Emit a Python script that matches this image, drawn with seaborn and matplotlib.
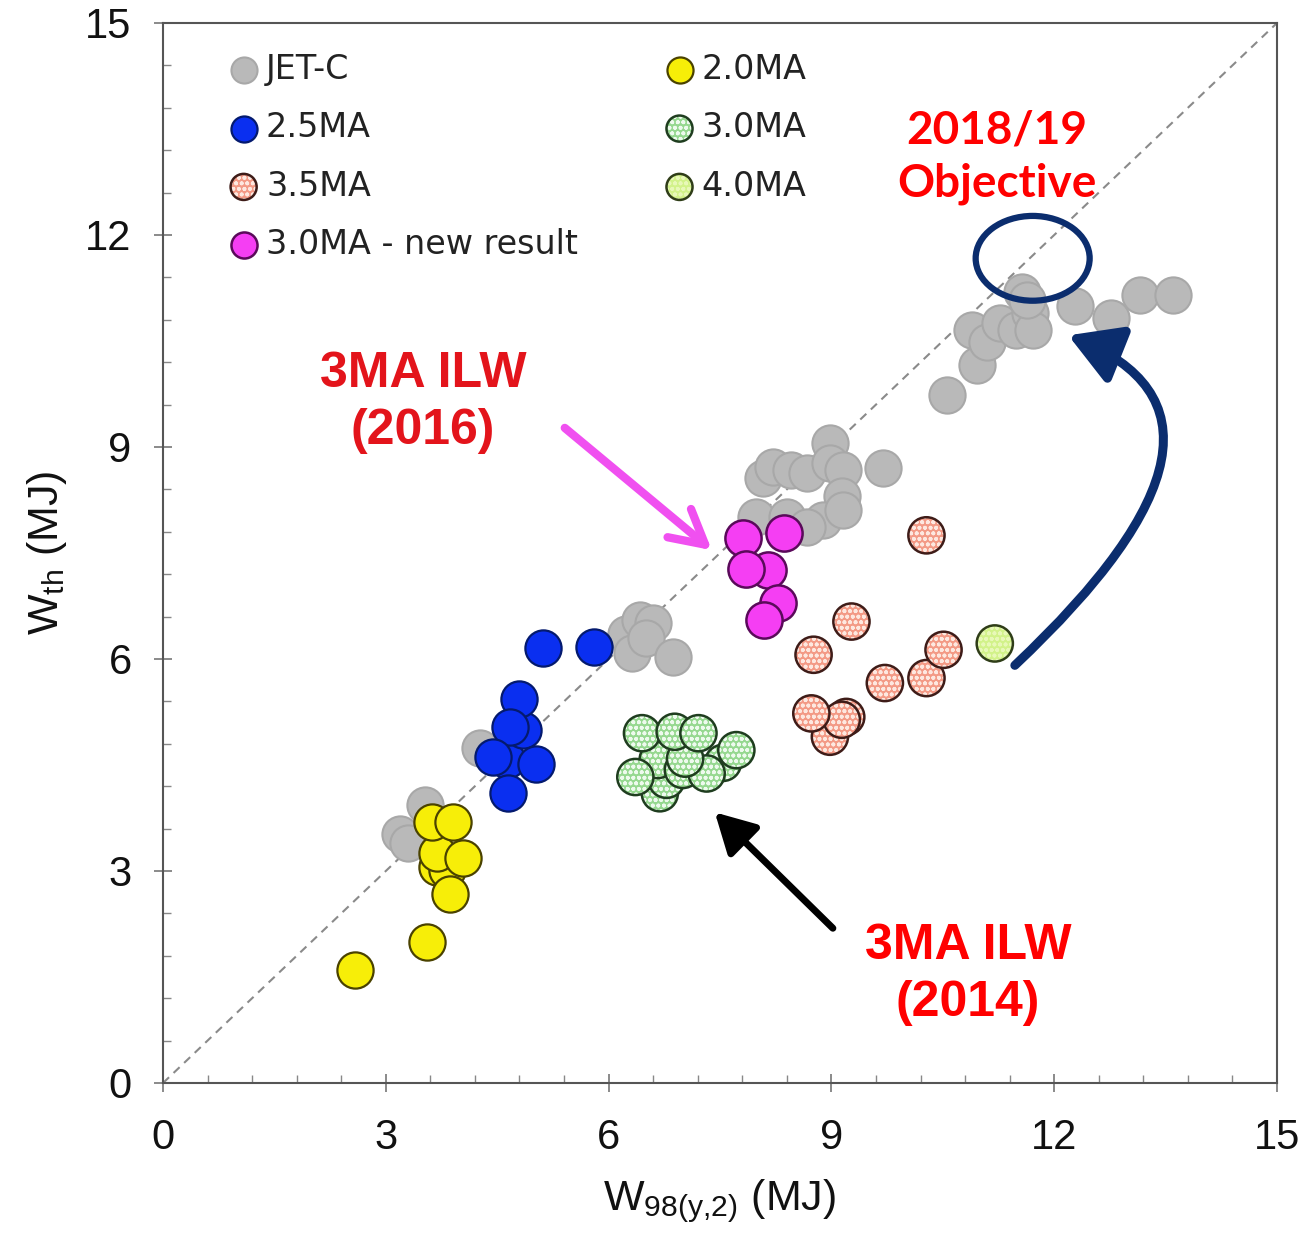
import numpy as np
import pandas as pd
import matplotlib
matplotlib.use("Agg")
import matplotlib.pyplot as plt
import seaborn as sns
from matplotlib.patches import Ellipse, FancyArrowPatch
from matplotlib.path import Path
from matplotlib.legend_handler import HandlerTuple

# ---------------- data ----------------
jet_x = [3.19, 3.53, 3.30, 4.27, 6.24, 6.31, 6.42, 6.60, 6.50, 6.87,
         8.08, 8.22, 8.45, 8.67, 8.98, 8.98, 9.16, 9.70, 9.14, 8.89, 7.99,
         8.40, 8.67, 9.16, 10.55, 10.96, 10.89, 11.09, 11.27, 11.49, 11.67,
         11.56, 11.72, 11.63, 12.28, 12.77, 13.15, 13.60]
jet_y = [3.53, 3.93, 3.40, 4.74, 6.36, 6.08, 6.55, 6.51, 6.30, 6.03,
         8.56, 8.72, 8.67, 8.63, 9.05, 8.77, 8.67, 8.70, 8.30, 7.97, 8.01,
         8.01, 7.87, 8.11, 9.74, 10.16, 10.66, 10.49, 10.75, 10.66, 10.90,
         11.20, 10.66, 11.08, 10.99, 10.82, 11.15, 11.15]

ma20_x = [3.69, 3.82, 2.59, 3.56, 3.86, 3.69, 4.04, 3.62, 3.91]
ma20_y = [3.06, 3.01, 1.60, 2.00, 2.68, 3.25, 3.18, 3.70, 3.69]

ma25_x = [4.63, 4.85, 5.11, 5.81, 4.80, 4.67, 4.45, 5.02, 4.64]
ma25_y = [4.57, 5.00, 6.16, 6.17, 5.44, 5.04, 4.62, 4.52, 4.10]

ma30_x = [6.69, 6.78, 6.66, 7.00, 7.54, 7.32, 6.36, 7.03, 6.45, 6.89, 7.21, 7.72]
ma30_y = [4.10, 4.29, 4.57, 4.43, 4.53, 4.38, 4.33, 4.59, 4.95, 4.97, 4.95, 4.71]

ma35_x = [8.98, 9.20, 9.14, 8.73, 9.72, 10.28, 10.51, 8.76, 9.27, 10.28]
ma35_y = [4.90, 5.18, 5.14, 5.23, 5.66, 5.73, 6.13, 6.06, 6.53, 7.75]

ma40_x = [11.20]
ma40_y = [6.22]

new_x = [7.81, 8.36, 8.15, 7.85, 8.28, 8.09]
new_y = [7.71, 7.78, 7.26, 7.28, 6.79, 6.55]

axis_lim = [0, 15]
major_ticks = [0, 3, 6, 9, 12, 15]

# ---------------- style ----------------
sns.set_style("white")
plt.rcParams['font.family'] = ['Liberation Sans', 'DejaVu Sans']
plt.rcParams['hatch.linewidth'] = 1.2

fig = plt.figure(figsize=(13.07, 12.37), dpi=100)
ax = fig.add_axes([163 / 1307, 1 - 1083 / 1237, 1114 / 1307, 1060 / 1237])

ax.plot(axis_lim, axis_lim, ls=(0, (4, 3)), color='#8a8a8a', lw=1.5, zorder=1)

S = 680
z = [2]


def plain(xs, ys, face, edge, lw=1.5):
    df = pd.DataFrame({'x': xs, 'y': ys})
    sns.scatterplot(data=df, x='x', y='y', ax=ax, s=S, color=face,
                    edgecolor=edge, linewidth=lw, zorder=z[0], legend=False)
    z[0] += 1
    return ax.collections[-1]


def textured(xs, ys, face, dots, edge, hatch='ooo'):
    df = pd.DataFrame({'x': xs, 'y': ys})
    first = None
    for i in range(len(df)):
        sub = df.iloc[[i]]
        sns.scatterplot(data=sub, x='x', y='y', ax=ax, s=S, color=face,
                        edgecolor=dots, linewidth=0, hatch=hatch,
                        zorder=z[0], legend=False)
        c1 = ax.collections[-1]
        sns.scatterplot(data=sub, x='x', y='y', ax=ax, s=S, color='none',
                        edgecolor=edge, linewidth=1.8,
                        zorder=z[0] + 0.5, legend=False)
        c2 = ax.collections[-1]
        z[0] += 1
        if first is None:
            first = (c1, c2)
    return first


h_jet = plain(jet_x, jet_y, '#b9b9b9', '#a8a8a8', lw=1.5)
h_20 = plain(ma20_x, ma20_y, '#f7ee08', '#4a4200', lw=1.6)
h_25 = plain(ma25_x, ma25_y, '#0a2ff0', '#041a6e', lw=1.6)
h_30 = textured(ma30_x, ma30_y, '#96d890', '#eefaee', '#1f3d1f')
h_35 = textured(ma35_x, ma35_y, '#f39a86', '#fde8e0', '#3e1c18')
h_40 = textured(ma40_x, ma40_y, '#d2f28a', '#e8f8b8', '#2f3d18')
h_new = plain(new_x, new_y, '#f53ef3', '#5a0a5a', lw=1.8)

ax.set_xlim(axis_lim)
ax.set_ylim(axis_lim)
ax.set_xticks(major_ticks)
ax.set_yticks(major_ticks)
ax.set_xticks(np.arange(0, 15.01, 0.6), minor=True)
ax.set_yticks(np.arange(0, 15.01, 0.6), minor=True)
ax.tick_params(which='both', bottom=True, left=True, top=False, right=False)
ax.tick_params(axis='x', which='major', direction='inout', length=13, width=1.2,
               color='#777777', labelsize=30, labelcolor='#111111', pad=19)
ax.tick_params(axis='y', which='major', direction='inout', length=13, width=1.2,
               color='#777777', labelsize=30, labelcolor='#111111', pad=16)
ax.tick_params(which='minor', direction='in', length=6, width=1.0, color='#888888')
for sp in ax.spines.values():
    sp.set_color('#555555')
    sp.set_linewidth(1.5)

ax.set_xlabel(r'W$_{\mathregular{98(y{,}2)}}$ (MJ)', fontsize=31, labelpad=14,
              color='#111111')
ax.set_ylabel(r'W$_{\mathregular{th}}$ (MJ)', fontsize=31, labelpad=12,
              color='#111111')

# legend
handles = [h_jet, h_25, h_35, h_new, h_20, h_30, h_40]
labels = ['JET-C', '2.5MA', '3.5MA', '3.0MA - new result', '2.0MA', '3.0MA', '4.0MA']
leg = ax.legend(handles, labels, ncol=2, loc='upper left',
                bbox_to_anchor=(0.026, 1.0), frameon=False,
                markerscale=0.72, handletextpad=0.02, columnspacing=2.4,
                labelspacing=0.76, handlelength=1.3,
                handler_map={tuple: HandlerTuple(ndivide=1, pad=0)},
                prop={'family': ['DejaVu Sans'], 'size': 24})
for t in leg.get_texts():
    t.set_color('#222222')

# annotations
ax.text(11.23, 13.1, '2018/19\nObjective', color='#ff0000', fontsize=33,
        fontweight='bold', family=['Lato', 'DejaVu Sans'], ha='center',
        va='center', linespacing=1.3, zorder=50)
ax.text(3.5, 9.63, '3MA ILW\n(2016)', color='#e3141b', fontsize=36,
        fontweight='bold', ha='center', va='center', linespacing=1.3, zorder=50)
ax.text(10.84, 1.53, '3MA ILW\n(2014)', color='#ff0000', fontsize=36,
        fontweight='bold', ha='center', va='center', linespacing=1.3, zorder=50)

ax.annotate('', xy=(7.39, 7.54), xytext=(5.41, 9.27),
            arrowprops=dict(arrowstyle='->,head_length=1.1,head_width=0.6',
                            lw=6, color='#f050f0', mutation_scale=22,
                            shrinkA=0, shrinkB=0), zorder=60)
ax.annotate('', xy=(7.43, 3.83), xytext=(9.02, 2.19),
            arrowprops=dict(arrowstyle='-|>,head_length=1.0,head_width=0.55',
                            lw=5, color='black', mutation_scale=24,
                            shrinkA=0, shrinkB=0), zorder=60)

ell = Ellipse((11.71, 11.67), 1.535, 1.20, fill=False, ec='#0b2d6e', lw=4.5,
              zorder=60)
ax.add_patch(ell)

curve = Path([(11.47, 5.91), (15.0, 9.4), (12.19, 10.58)],
             [Path.MOVETO, Path.CURVE3, Path.CURVE3])
arr = FancyArrowPatch(path=curve, arrowstyle='-|>,head_length=1.2,head_width=0.7',
                      mutation_scale=26, lw=6.5, color='#0b2d6e', zorder=60)
ax.add_patch(arr)

fig.savefig('out.png', dpi=100)
